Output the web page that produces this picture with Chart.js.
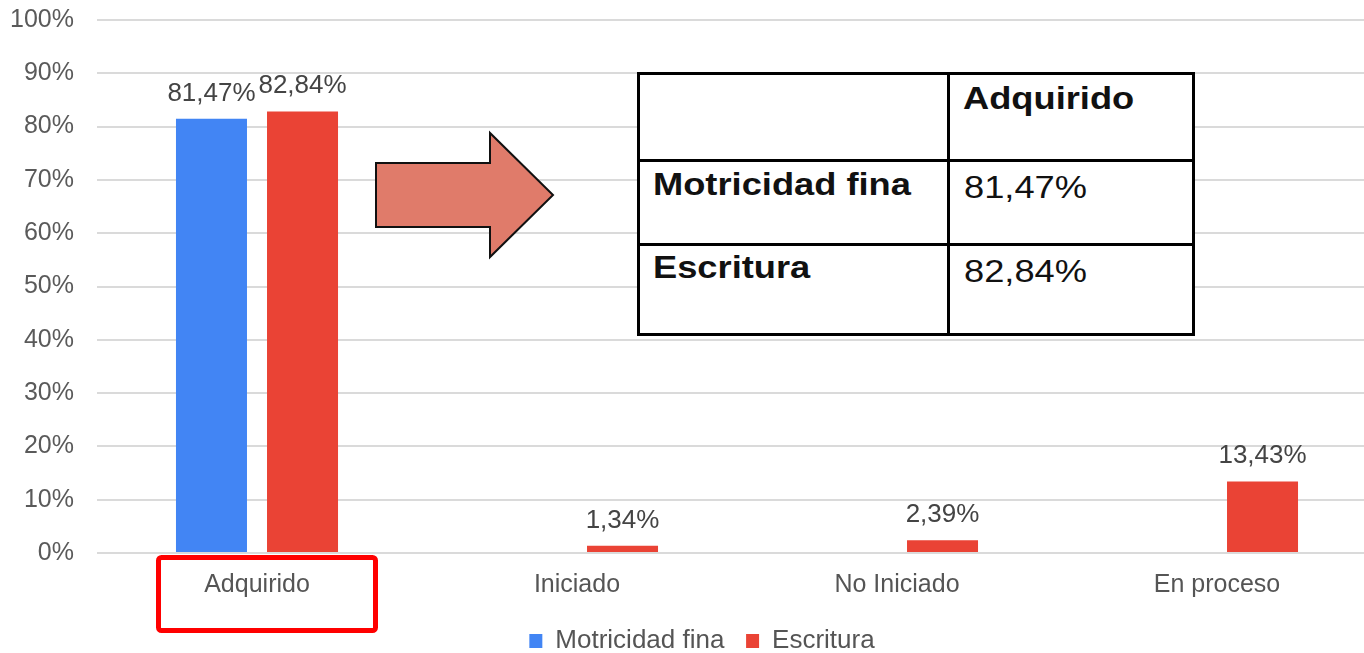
<!DOCTYPE html>
<html lang="es">
<head>
<meta charset="UTF-8">
<title>Motricidad fina y Escritura</title>
<script src="https://cdn.jsdelivr.net/npm/chart.js@4"></script>
<style>
  html, body { margin: 0; padding: 0; background: #fff; overflow: hidden; }
  #wrap { position: relative; width: 1404px; height: 664px; }
  #tabla { position: absolute; left: 637px; top: 72px; width: 558px; height: 264px; border: 3px solid #000;
           box-sizing: border-box; background: #fff; font-family: "Liberation Sans", Arial, sans-serif; color: #111; }
  #tabla .h { position: absolute; left: 0; width: 552px; height: 3px; background: #000; }
  #tabla .v { position: absolute; top: 0; left: 307px; width: 3px; height: 258px; background: #000; }
  #tabla span { position: absolute; font-size: 31px; line-height: 31px; white-space: nowrap;
                transform: scaleX(1.17); transform-origin: 0 0; }
  #tabla span.b { font-weight: bold; }
</style>
</head>
<body>
<div id="wrap">
  <canvas id="grafico"></canvas>
  <div id="tabla">
    <div class="h" style="top:84px"></div>
    <div class="h" style="top:168px"></div>
    <div class="v"></div>
    <span class="b" style="left:323px; top:8px">Adquirido</span>
    <span class="b" style="left:13px; top:94px">Motricidad fina</span>
    <span style="left:324px; top:97px">81,47%</span>
    <span class="b" style="left:13px; top:177px">Escritura</span>
    <span style="left:324px; top:181px">82,84%</span>
  </div>
</div>
<script>
// datos
const categorias = ['Adquirido', 'Iniciado', 'No Iniciado', 'En proceso'];
const motricidadFina = [81.47, null, null, null];
const escritura = [82.84, 1.34, 2.39, 13.43];
const ticksY = [0, 10, 20, 30, 40, 50, 60, 70, 80, 90, 100];

const FUENTE = '"Liberation Sans", Arial, sans-serif';

function fmt(v) {
    return v.toFixed(2).replace('.', ',') + '%';
}

// etiquetas de valor encima de cada barra
const etiquetasValor = {
    id: 'etiquetasValor',
    afterDatasetsDraw(chart) {
        const ctx = chart.ctx;
        ctx.save();
        ctx.font = '26px ' + FUENTE;
        ctx.fillStyle = '#444';
        ctx.textAlign = 'center';
        ctx.textBaseline = 'alphabetic';
        chart.data.datasets.forEach((ds, i) => {
            chart.getDatasetMeta(i).data.forEach((bar, j) => {
                const v = ds.data[j];
                if (v === null || v === undefined) return;
                ctx.fillText(fmt(v), bar.x, bar.y - 18);
            });
        });
        ctx.restore();
    }
};

// flecha y recuadro rojo añadidos sobre el gráfico
const marcas = {
    id: 'marcas',
    afterDraw(chart) {
        const ctx = chart.ctx;
        ctx.save();
        ctx.beginPath();
        ctx.moveTo(376, 163);
        ctx.lineTo(490, 163);
        ctx.lineTo(490, 133);
        ctx.lineTo(553, 195);
        ctx.lineTo(490, 257);
        ctx.lineTo(490, 227);
        ctx.lineTo(376, 227);
        ctx.closePath();
        ctx.fillStyle = '#e07b6a';
        ctx.fill();
        ctx.lineWidth = 2;
        ctx.strokeStyle = '#111';
        ctx.stroke();

        ctx.beginPath();
        ctx.roundRect(158.5, 557.5, 217, 73, 3);
        ctx.lineWidth = 5;
        ctx.strokeStyle = '#ff0000';
        ctx.stroke();
        ctx.restore();
    }
};

new Chart(document.getElementById('grafico'), {
    type: 'bar',
    data: {
        labels: categorias,
        datasets: [
            { label: 'Motricidad fina', data: motricidadFina, backgroundColor: '#4285f4' },
            { label: 'Escritura', data: escritura, backgroundColor: '#ea4335' }
        ]
    },
    options: {
        responsive: true,
        maintainAspectRatio: false,
        animation: false,
        categoryPercentage: 0.569,
        barPercentage: 0.78,
        layout: { padding: { top: 20, left: 0, right: 0, bottom: 0 } },
        plugins: {
            tooltip: { enabled: false },
            legend: {
                position: 'bottom',
                labels: {
                    font: { family: FUENTE, size: 26 },
                    color: '#555',
                    boxWidth: 13,
                    boxHeight: 14,
                    padding: 0,
                    generateLabels(chart) {
                        const base = Chart.defaults.plugins.legend.labels.generateLabels(chart);
                        base.forEach((it, i) => {
                            if (i < base.length - 1) it.text = it.text + '   ';
                            it.lineWidth = 0;
                        });
                        return base;
                    }
                }
            }
        },
        scales: {
            x: {
                grid: { display: false, drawTicks: false },
                border: { display: false },
                ticks: { font: { family: FUENTE, size: 25 }, color: '#555', padding: 17 },
                afterFit(scale) { scale.height = 75; }
            },
            y: {
                min: 0,
                max: 100,
                grid: { color: '#dadada', lineWidth: 2, drawTicks: false },
                border: { display: false },
                afterBuildTicks(scale) { scale.ticks = ticksY.map(v => ({ value: v })); },
                ticks: {
                    font: { family: FUENTE, size: 25 },
                    color: '#5a5a5a',
                    padding: 23,
                    callback: v => v + '%'
                },
                afterFit(scale) {
                    scale.width = 97;
                    // el padding de las etiquetas no debe empujar el área hacia abajo
                    scale.paddingTop = 0;
                    scale.paddingBottom = 0;
                }
            },
            // eje vacío a la derecha: el área del gráfico sigue más allá del borde visible
            y2: {
                position: 'right',
                grid: { display: false, drawTicks: false },
                border: { display: false },
                ticks: { display: false },
                afterFit(scale) { scale.width = 27; }
            }
        }
    },
    plugins: [etiquetasValor, marcas]
});
</script>
</body>
</html>
